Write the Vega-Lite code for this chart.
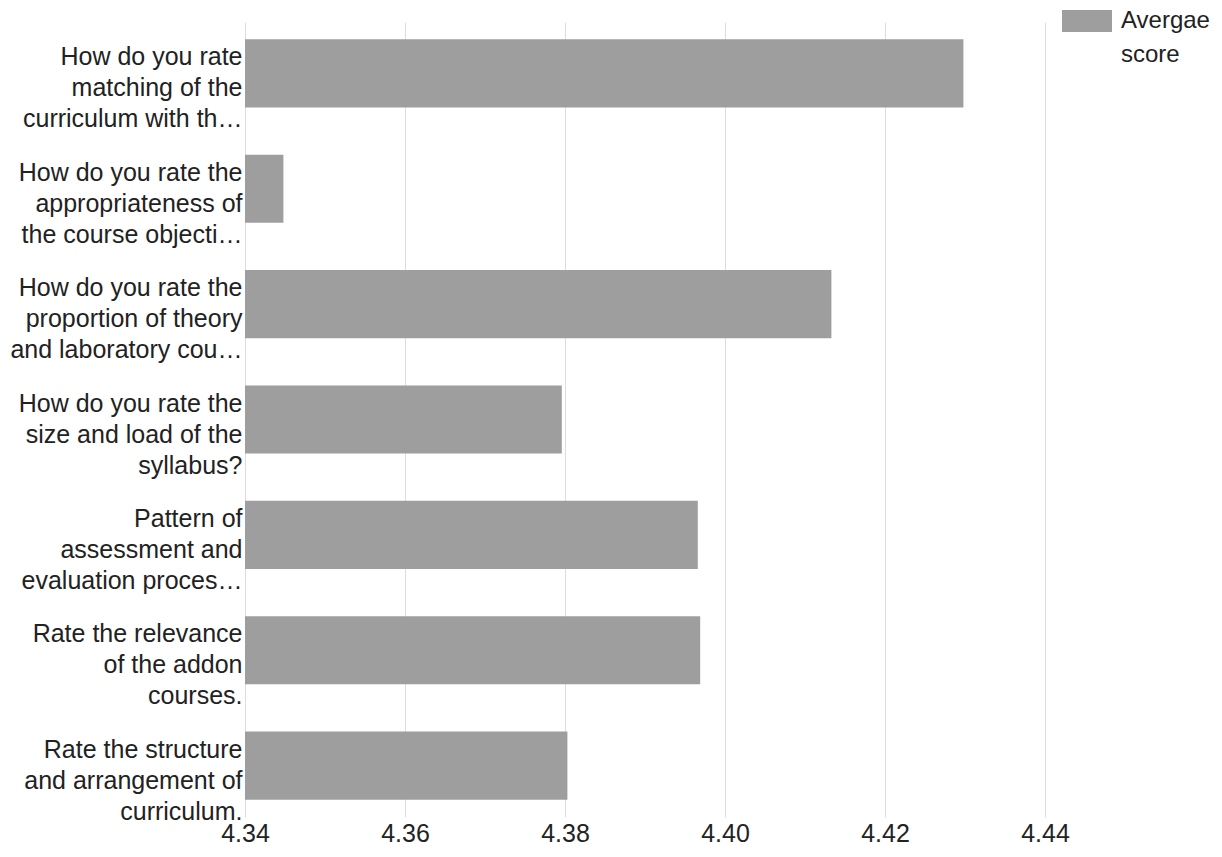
{
  "$schema": "https://vega.github.io/schema/vega-lite/v6.json",
  "autosize": "none",
  "width": 800,
  "height": 795,
  "padding": {"left": 245, "top": 22, "right": 177, "bottom": 40},
  "background": "white",
  "config": {
    "view": {"stroke": null},
    "font": "Liberation Sans",
    "style": {"guide-label": {"lineHeight": 34}}
  },
  "data": {
    "values": [
      {"question": "How do you rate\nmatching of the\ncurriculum with th…", "score": 4.4298, "series": "Avergae score"},
      {"question": "How do you rate the\nappropriateness of\nthe course objecti…", "score": 4.3448, "series": "Avergae score"},
      {"question": "How do you rate the\nproportion of theory\nand laboratory cou…", "score": 4.4133, "series": "Avergae score"},
      {"question": "How do you rate the\nsize and load of the\nsyllabus?", "score": 4.3796, "series": "Avergae score"},
      {"question": "Pattern of\nassessment and\nevaluation proces…", "score": 4.3966, "series": "Avergae score"},
      {"question": "Rate the relevance\nof the addon\ncourses.", "score": 4.3969, "series": "Avergae score"},
      {"question": "Rate the structure\nand arrangement of\ncurriculum.", "score": 4.3803, "series": "Avergae score"}
    ]
  },
  "mark": {"type": "bar", "clip": true},
  "encoding": {
    "y": {
      "field": "question",
      "type": "nominal",
      "sort": null,
      "scale": {"paddingInner": 0.41, "paddingOuter": 0.15},
      "axis": {
        "title": null,
        "domain": false,
        "ticks": false,
        "labelFontSize": 25,
        "labelColor": "#222222",
        "labelPadding": 3,
        "labelLimit": 300,
        "labelLineHeight": 31,
        "labelOffset": -16,
        "labelExpr": "split(datum.label, '\\n')"
      }
    },
    "x": {
      "field": "score",
      "type": "quantitative",
      "scale": {"domain": [4.34, 4.44], "zero": false, "nice": false},
      "axis": {
        "title": null,
        "values": [4.34, 4.36, 4.38, 4.40, 4.42, 4.44],
        "format": ".2f",
        "domain": false,
        "ticks": false,
        "labelFontSize": 25,
        "labelColor": "#222222",
        "labelPadding": 4,
        "gridColor": "#dddddd",
        "labelFlush": false
      }
    },
    "color": {
      "field": "series",
      "type": "nominal",
      "scale": {"range": ["#9e9e9e"]},
      "legend": {
        "title": null,
        "orient": "none",
        "legendX": 817,
        "legendY": -26,
        "labelFontSize": 24,
        "labelColor": "#222222",
        "labelExpr": "split(datum.label, ' ')",
        "labelBaseline": "middle",
        "labelOffset": 9,
        "symbolType": "M-1,-0.44H1V0.44H-1Z",
        "symbolSize": 2500,
        "symbolStrokeWidth": 0,
        "symbolOpacity": 1
      }
    }
  }
}
